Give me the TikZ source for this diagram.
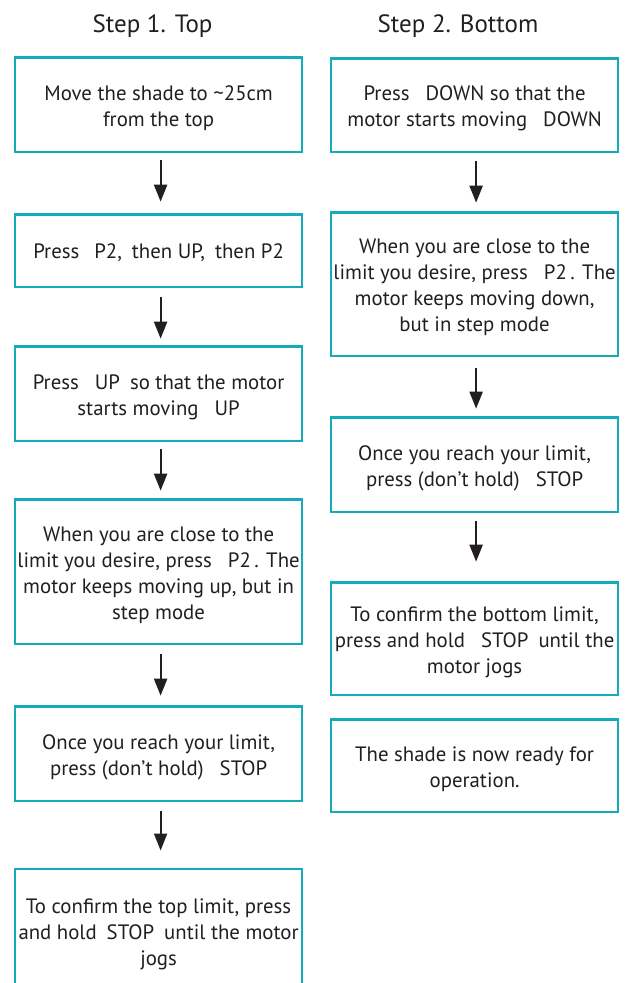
\documentclass[tikz,border=0pt]{standalone}
\usepackage{fontspec}
\setmainfont{PT Sans}
\usetikzlibrary{arrows.meta}
\definecolor{boxteal}{RGB}{22,171,186}
\definecolor{ink}{RGB}{35,31,32}
\tikzset{
  stepbox/.style={draw=boxteal, line width=2.6pt, minimum width=287pt, inner sep=0pt},
  steptext/.style={align=center, text=ink, inner sep=0pt, font=\fontsize{20.8}{26}\selectfont},
  title/.style={anchor=base, text=ink, font=\fontsize{25}{30}\selectfont, inner sep=0pt},
  flow/.style={draw=ink, line width=2pt, -{Triangle[length=17pt,width=13pt]}}
}
\begin{document}
\begin{tikzpicture}[x=1pt,y=-1pt]
\useasboundingbox (0,0) rectangle (626,983);
\clip (0,0) rectangle (626,983);
\fill[white] (0,0) rectangle (626,983);
% titles
\node[title] (t1) at (152.5,32) {Step 1. Top};
\node[title] (t2) at (458,32) {Step 2. Bottom};
% left column boxes
\node[stepbox, minimum height=94.6pt]  (L1) at (158.6,104.5) {};
\node[stepbox, minimum height=72.6pt]  (L2) at (158.6,250.5) {};
\node[stepbox, minimum height=94.6pt]  (L3) at (158.6,393.5) {};
\node[stepbox, minimum height=144.6pt] (L4) at (158.6,571.5) {};
\node[stepbox, minimum height=94.6pt]  (L5) at (158.6,753.5) {};
\node[stepbox, minimum height=124pt]   (L6) at (158.6,931) {};
% left column texts
\node[steptext] (L1t) at ([yshift=-3.5pt]L1.center) {Move the shade to \textasciitilde25cm\\from the top};
\node[steptext] (L2t) at ([yshift=-2pt]L2.center) {Press\hspace{15pt}P2,\hspace{10pt}then UP,\hspace{10pt}then P2};
\node[steptext] (L3t) at ([yshift=-3.5pt]L3.center) {Press\hspace{16pt}UP\hspace{10pt}so that the motor\\starts moving\hspace{16pt}UP};
\node[steptext] (L4t) at ([yshift=-3.5pt]L4.center) {When you are close to the\\limit you desire, press\hspace{16pt}P2\,. The\\motor keeps moving up, but in\\step mode};
\node[steptext] (L5t) at ([yshift=-3.5pt]L5.center) {Once you reach your limit,\\press (don’t hold)\hspace{16pt}STOP};
\node[steptext] (L6t) at ([yshift=-3.5pt]L6.center) {To confirm the top limit, press\\and hold\hspace{10pt}STOP\hspace{10pt}until the motor\\jogs};
% right column boxes
\node[stepbox, minimum height=93.6pt]  (R1) at (474.6,105) {};
\node[stepbox, minimum height=143.6pt] (R2) at (474.6,284) {};
\node[stepbox, minimum height=94.6pt]  (R3) at (474.6,464.5) {};
\node[stepbox, minimum height=112.6pt] (R4) at (474.6,638.5) {};
\node[stepbox, minimum height=92.6pt]  (R5) at (474.6,765.5) {};
% right column texts
\node[steptext] (R1t) at ([yshift=-3.5pt]R1.center) {Press\hspace{16pt}DOWN so that the\\motor starts moving\hspace{16pt}DOWN};
\node[steptext] (R2t) at ([yshift=-3.5pt]R2.center) {When you are close to the\\limit you desire, press\hspace{16pt}P2\,. The\\motor keeps moving down,\\but in step mode};
\node[steptext] (R3t) at ([yshift=-3.5pt]R3.center) {Once you reach your limit,\\press (don’t hold)\hspace{16pt}STOP};
\node[steptext] (R4t) at ([yshift=-3.5pt]R4.center) {To confirm the bottom limit,\\press and hold\hspace{16pt}STOP\hspace{10pt}until the\\motor jogs};
\node[steptext] (R5t) at ([yshift=-3.5pt]R5.center) {The shade is now ready for\\operation.};
% arrows left
\draw[flow, shorten <=7.2pt, shorten >=11.2pt] ([xshift=2pt]L1.south) -- ([xshift=2pt]L2.north);
\draw[flow, shorten <=9.2pt, shorten >=6.2pt] ([xshift=2pt]L2.south) -- ([xshift=2pt]L3.north);
\draw[flow, shorten <=7.2pt, shorten >=7.2pt] ([xshift=2pt]L3.south) -- ([xshift=2pt]L4.north);
\draw[flow, shorten <=9.2pt, shorten >=9.2pt] ([xshift=2pt]L4.south) -- ([xshift=2pt]L5.north);
\draw[flow, shorten <=9.2pt, shorten >=17.2pt] ([xshift=2pt]L5.south) -- ([xshift=2pt]L6.north);
% arrows right
\draw[flow, shorten <=8.2pt, shorten >=8.2pt] ([xshift=1.5pt]R1.south) -- ([xshift=1.5pt]R2.north);
\draw[flow, shorten <=11.2pt, shorten >=7.2pt] ([xshift=1.5pt]R2.south) -- ([xshift=1.5pt]R3.north);
\draw[flow, shorten <=8.2pt, shorten >=19.2pt] ([xshift=1.5pt]R3.south) -- ([xshift=1.5pt]R4.north);
\end{tikzpicture}
\end{document}
